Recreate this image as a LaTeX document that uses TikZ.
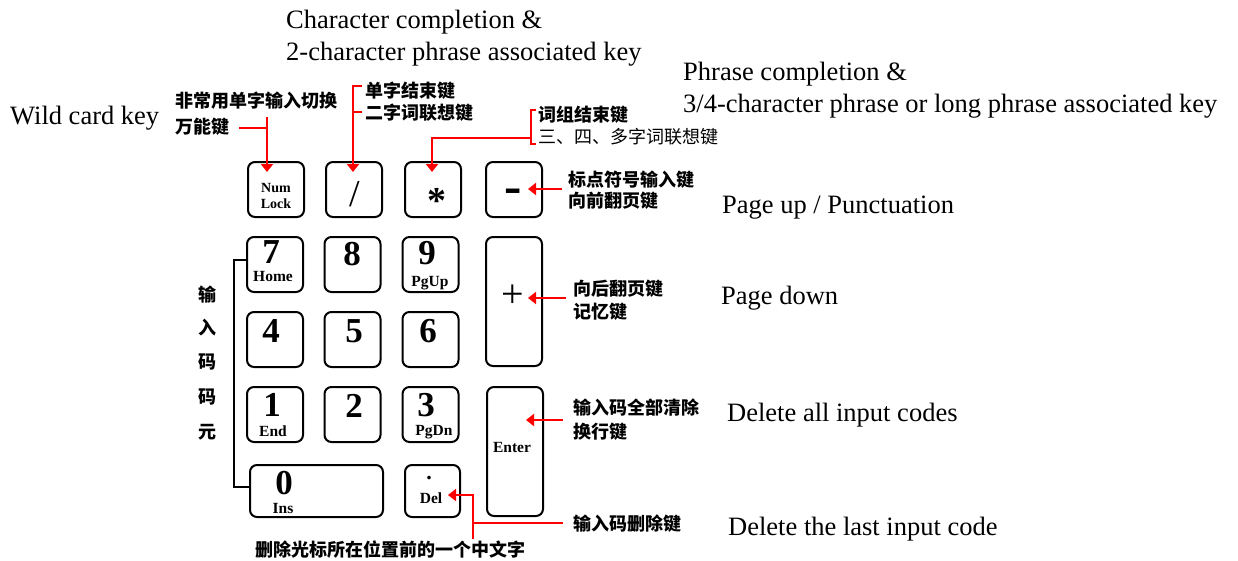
\documentclass[tikz,border=0pt]{standalone}
\usepackage{fontspec}
\setmainfont{Liberation Serif}
\newfontfamily\cjk{Noto Sans CJK SC}
\usetikzlibrary{arrows.meta}
\begin{document}
\begin{tikzpicture}[x=1pt,y=-1pt,
  key/.style={draw=black, line width=2pt, rounded corners=7pt, minimum width=56pt, minimum height=55pt, inner sep=0pt},
  en/.style={font=\fontsize{26.5}{32}\selectfont, anchor=base west, inner sep=0pt},
  zh/.style={font=\cjk\bfseries\fontsize{18}{22}\selectfont, anchor=west, inner sep=0pt},
  zhl/.style={font=\cjk\fontsize{18}{22}\selectfont, anchor=west, inner sep=0pt},
  zhv/.style={font=\cjk\bfseries\fontsize{18}{22}\selectfont, anchor=center, inner sep=0pt},
  digit/.style={font=\bfseries\fontsize{35}{35}\selectfont, anchor=base, inner sep=0pt},
  sub/.style={font=\bfseries\fontsize{15.5}{16}\selectfont, anchor=base, inner sep=0pt},
  redline/.style={draw=red, line width=2pt},
  redarr/.style={draw=red, line width=2pt, -{Triangle[width=12pt,length=8pt]}},
  blk/.style={draw=black, line width=1.6pt}
]
\useasboundingbox (0,0) rectangle (1238,560);

% keys
\node[key] (knum) at (276,189.5) {};
\node[key] (kslash) at (354,189.5) {};
\node[key] (kstar) at (433,189.5) {};
\node[key] (kminus) at (514,189.5) {};
\node[key] (k7) at (275,264.5) {};
\node[key] (k8) at (352.5,264.5) {};
\node[key] (k9) at (430.5,264.5) {};
\node[key, minimum height=129pt] (kplus) at (514,301.5) {};
\node[key] (k4) at (275,339.5) {};
\node[key] (k5) at (352.5,339.5) {};
\node[key] (k6) at (430.5,339.5) {};
\node[key] (k1) at (275,414.5) {};
\node[key] (k2) at (352.5,414.5) {};
\node[key] (k3) at (430.5,414.5) {};
\node[key, minimum height=129pt] (kenter) at (515,451.5) {};
\node[key, minimum width=133pt, minimum height=52pt] (k0) at (316.5,491) {};
\node[key, minimum width=55pt, minimum height=52pt] (kdel) at (432.5,491) {};

% key legends
\node[font=\bfseries\fontsize{14}{14}\selectfont, anchor=base, inner sep=0pt] (tnum) at (276,192) {Num};
\node[font=\bfseries\fontsize{14}{14}\selectfont, anchor=base, inner sep=0pt] (tlock) at (276,208) {Lock};
\node[font=\fontsize{38}{38}\selectfont, anchor=base, inner sep=0pt] (tslash) at (355,206) {/};
\node[font=\bfseries\fontsize{38}{38}\selectfont, anchor=base, inner sep=0pt] (tstar) at (437,213) {*};
\node[font=\bfseries\fontsize{52}{52}\selectfont, anchor=base, inner sep=0pt] (tminus) at (513,203) {-};
\node[font=\fontsize{40}{40}\selectfont, anchor=base, inner sep=0pt] (tplus) at (513,307) {+};
\node[digit] (t7) at (271,263) {7};
\node[sub] (thome) at (273,281) {Home};
\node[digit] (t8) at (352,265) {8};
\node[digit] (t9) at (427,264) {9};
\node[sub] (tpgup) at (430,286) {PgUp};
\node[digit] (t4) at (271,342) {4};
\node[digit] (t5) at (354,342) {5};
\node[digit] (t6) at (428,342) {6};
\node[digit] (t1) at (272,416) {1};
\node[sub] (tend) at (273,436) {End};
\node[digit] (t2) at (354,417) {2};
\node[digit] (t3) at (426,416) {3};
\node[sub] (tpgdn) at (434,435) {PgDn};
\node[sub] (tenter) at (512,452) {Enter};
\node[digit] (t0) at (284,494) {0};
\node[sub] (tins) at (283,513) {Ins};
\node[font=\bfseries\fontsize{22}{22}\selectfont, anchor=base, inner sep=0pt] (tdot) at (429,479) {.};
\node[sub] (tdel) at (431,503) {Del};

% English labels
\node[en] (e1a) at (286,28.5) {Character completion \&};
\node[en] (e1b) at (286,60.5) {2-character phrase associated key};
\node[en] (e2a) at (683,80) {Phrase completion \&};
\node[en] (e2b) at (683,112) {3/4-character phrase or long phrase associated key};
\node[en] (e3) at (10,124) {Wild card key};
\node[en] (e4) at (722,213) {Page up / Punctuation};
\node[en] (e5) at (721,304) {Page down};
\node[en] (e6) at (727,421) {Delete all input codes};
\node[en] (e7) at (728,535) {Delete the last input code};

% Chinese labels
\node[zh] (c1a) at (175,101) {非常用单字输入切换};
\node[zh] (c1b) at (175,127) {万能键};
\node[zh] (c2a) at (365,91) {单字结束键};
\node[zh] (c2b) at (365,113) {二字词联想键};
\node[zh] (c3a) at (538,115) {词组结束键};
\node[zhl] (c3b) at (538,137) {三、四、多字词联想键};
\node[zh] (c4a) at (568,180) {标点符号输入键};
\node[zh] (c4b) at (568,201) {向前翻页键};
\node[zh] (c5a) at (573,289) {向后翻页键};
\node[zh] (c5b) at (573,312) {记忆键};
\node[zh] (c6a) at (573,408) {输入码全部清除};
\node[zh] (c6b) at (573,432) {换行键};
\node[zh] (c7) at (573,524) {输入码删除键};
\node[zh] (c8) at (255,550) {删除光标所在位置前的一个中文字};
\node[zhv] (v1) at (207,295) {输};
\node[zhv] (v2) at (207,328) {入};
\node[zhv] (v3) at (207,362) {码};
\node[zhv] (v4) at (207,397) {码};
\node[zhv] (v5) at (207,432) {元};

% connector points
\coordinate (a1s) at (239,128);
\coordinate (a1j) at (267,128);
\coordinate (a1t) at (267,117);
\coordinate (a1e) at (267,172);

\coordinate (a2t) at (362,86);
\coordinate (a2c) at (353,86);
\coordinate (a2m) at (353,112);
\coordinate (a2n) at (362,112);
\coordinate (a2e) at (353,172);

\coordinate (a3t) at (536,110);
\coordinate (a3c) at (531,110);
\coordinate (a3b) at (531,144);
\coordinate (a3d) at (536,144);
\coordinate (a3j) at (531,138);
\coordinate (a3k) at (432,138);
\coordinate (a3e) at (432,172);

\coordinate (a4s) at (562,189);
\coordinate (a4e) at (528,189);
\coordinate (a5s) at (566,298);
\coordinate (a5e) at (528,298);
\coordinate (a6s) at (563,420);
\coordinate (a6e) at (526,420);

\coordinate (a7b) at (473,539);
\coordinate (a7c) at (473,495);
\coordinate (a7e) at (448,495);
\coordinate (a7j) at (473,523);
\coordinate (a7s) at (563,523);

\coordinate (b1) at (247,260);
\coordinate (b2) at (234,260);
\coordinate (b3) at (234,487);
\coordinate (b4) at (250,487);

% red connectors
\draw[redline] (a1s) -- (a1j);
\draw[redarr] (a1t) -- (a1e);
\draw[redline] (a2t) -- (a2c) -- (a2m);
\draw[redline] (a2m) -- (a2n);
\draw[redarr] (a2m) -- (a2e);
\draw[redline] (a3t) -- (a3c) -- (a3b) -- (a3d);
\draw[redarr] (a3j) -- (a3k) -- (a3e);
\draw[redarr] (a4s) -- (a4e);
\draw[redarr] (a5s) -- (a5e);
\draw[redarr] (a6s) -- (a6e);
\draw[redarr] (a7b) -- (a7c) -- (a7e);
\draw[redline] (a7j) -- (a7s);

% black bracket
\draw[blk] (b1) -- (b2) -- (b3) -- (b4);
\end{tikzpicture}
\end{document}
